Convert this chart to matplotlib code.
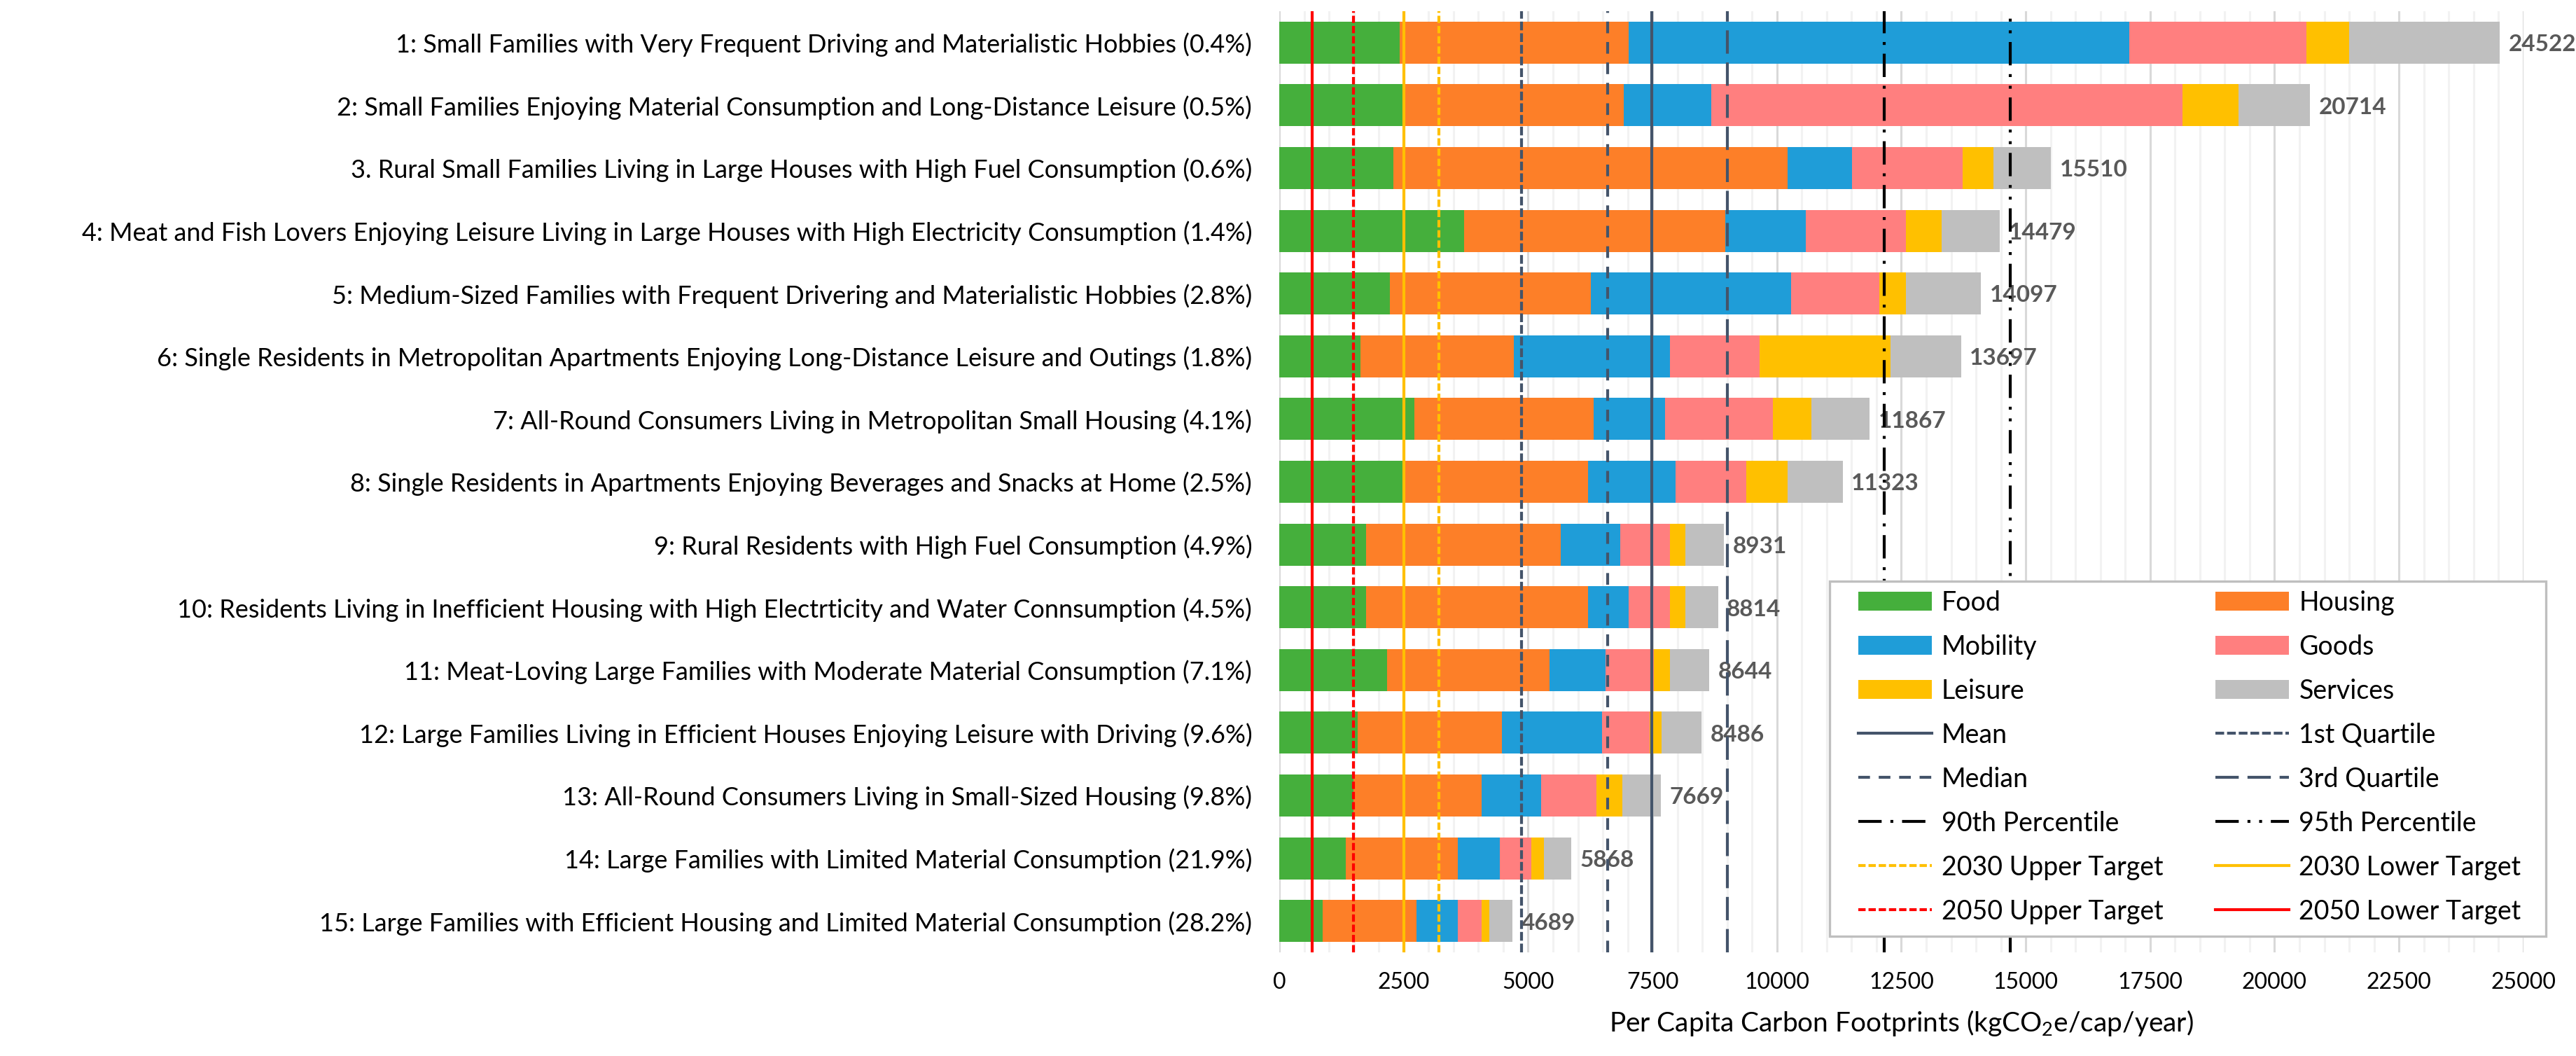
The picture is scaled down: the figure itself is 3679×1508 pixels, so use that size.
import matplotlib
matplotlib.use("Agg")
import matplotlib.pyplot as plt
import numpy as np
from matplotlib.ticker import MultipleLocator
from matplotlib.patches import Rectangle

plt.rcParams['font.family'] = ['Lato', 'DejaVu Sans']
plt.rcParams['mathtext.fontset'] = 'custom'
plt.rcParams['mathtext.rm'] = 'Lato'
plt.rcParams['mathtext.it'] = 'Lato:italic'

categories = [
    "1: Small Families with Very Frequent Driving and Materialistic Hobbies (0.4%)",
    "2: Small Families Enjoying Material Consumption and Long-Distance Leisure (0.5%)",
    "3. Rural Small Families Living in Large Houses with High Fuel Consumption (0.6%)",
    "4: Meat and Fish Lovers Enjoying Leisure Living in Large Houses with High Electricity Consumption (1.4%)",
    "5: Medium-Sized Families with Frequent Drivering and Materialistic Hobbies (2.8%)",
    "6: Single Residents in Metropolitan Apartments Enjoying Long-Distance Leisure and Outings (1.8%)",
    "7: All-Round Consumers Living in Metropolitan Small Housing (4.1%)",
    "8: Single Residents in Apartments Enjoying Beverages and Snacks at Home (2.5%)",
    "9: Rural Residents with High Fuel Consumption (4.9%)",
    "10: Residents Living in Inefficient Housing with High Electrticity and Water Connsumption (4.5%)",
    "11: Meat-Loving Large Families with Moderate Material Consumption (7.1%)",
    "12: Large Families Living in Efficient Houses Enjoying Leisure with Driving (9.6%)",
    "13: All-Round Consumers Living in Small-Sized Housing (9.8%)",
    "14: Large Families with Limited Material Consumption (21.9%)",
    "15: Large Families with Efficient Housing and Limited Material Consumption (28.2%)",
]

food     = [2424, 2475, 2288, 3712, 2220, 1627, 2712, 2475, 1746, 1746, 2169, 1576, 1492, 1339, 864]
housing  = [4593, 4440, 7932, 5254, 4034, 3085, 3610, 3728, 3915, 4457, 3255, 2899, 2576, 2254, 1899]
mobility = [10068, 1763, 1288, 1610, 4034, 3135, 1424, 1763, 1186, 814, 1135, 2017, 1186, 831, 830]
goods    = [3559, 9475, 2221, 2017, 1763, 1797, 2169, 1424, 1000, 830, 966, 949, 1119, 644, 475]
leisure  = [848, 1118, 627, 712, 542, 2644, 780, 830, 306, 306, 322, 237, 525, 254, 152]
services = [3030, 1443, 1154, 1174, 1504, 1409, 1172, 1103, 778, 661, 797, 808, 771, 546, 469]
totals   = [24522, 20714, 15510, 14479, 14097, 13697, 11867, 11323, 8931, 8814, 8644, 8486, 7669, 5868, 4689]

series_names = ["Food", "Housing", "Mobility", "Goods", "Leisure", "Services"]
series_colors = ["#45AF3C", "#FD7F28", "#1F9DD8", "#FF7F7F", "#FFC000", "#BFBFBF"]

ref_names  = ["Mean", "1st Quartile", "Median", "3rd Quartile", "90th Percentile", "95th Percentile",
              "2030 Upper Target", "2030 Lower Target", "2050 Upper Target", "2050 Lower Target"]
ref_values = [7478, 4864, 6593, 9000, 12153, 14695, 3205, 2505, 1495, 662]
ref_colors = ["#44546A", "#44546A", "#44546A", "#44546A", "black", "black",
              "#FFC000", "#FFC000", "#FF0000", "#FF0000"]
ref_styles = ["-", (0, (3, 1)), (0, (4, 3)), (0, (8, 3)), (0, (8, 3, 1, 3)), (0, (8, 3, 1, 3, 1, 3)),
              (0, (2.5, 1)), "-", (0, (2.5, 1)), "-"]

fig = plt.figure(figsize=(18.4, 7.54), dpi=200)
ax = fig.add_axes([0.4965, 0.0981, 0.9793 - 0.4965, 0.9894 - 0.0981])

y = np.arange(len(categories))
data = [food, housing, mobility, goods, leisure, services]
left = np.zeros(len(categories))
bar_handles = []
for vals, name, col in zip(data, series_names, series_colors):
    h = ax.barh(y, vals, left=left, height=0.67, color=col, label=name, zorder=2, linewidth=0)
    bar_handles.append(h)
    left = left + np.array(vals)

for yi, end, tot in zip(y, left, totals):
    ax.annotate(str(tot), xy=(end, yi), xytext=(4.5, -1), textcoords="offset points",
                ha="left", va="center", fontsize=12, fontweight="bold", color="#595959", zorder=3)

line_handles = []
for name, val, col, ls in zip(ref_names, ref_values, ref_colors, ref_styles):
    ln = ax.axvline(val, color=col, linestyle=ls, linewidth=1.5, label=name, zorder=4)
    line_handles.append(ln)

ax.set_xlim(0, 25000)
ax.set_ylim(14.5, -0.5)
ax.set_yticks(y)
ax.set_yticklabels(categories, fontsize=13)
ax.xaxis.set_major_locator(MultipleLocator(2500))
ax.xaxis.set_minor_locator(MultipleLocator(500))
ax.grid(True, axis="x", which="major", color="#D9D9D9", linewidth=1.1, zorder=0)
ax.grid(True, axis="x", which="minor", color="#F2F2F2", linewidth=1.1, zorder=0)
ax.set_axisbelow(True)
for s in ax.spines.values():
    s.set_visible(False)
ax.tick_params(axis="both", which="both", length=0)
ax.tick_params(axis="y", pad=14)
ax.tick_params(axis="x", pad=10, labelsize=11.5)
ax.set_xlabel(r"Per Capita Carbon Footprints (kgCO$_2$e/cap/year)", fontsize=14, labelpad=8)

# legend box (drawn over the reference lines)
box = Rectangle((0.4423, 0.0171), 0.5757, 0.3772, transform=ax.transAxes, facecolor="white",
                edgecolor="#BFBFBF", linewidth=1.2, zorder=4.5, clip_on=False)
ax.add_patch(box)

handles_all = bar_handles + line_handles
labels_all = series_names + ref_names
col1 = [handles_all[i] for i in range(0, 16, 2)]
col2 = [handles_all[i] for i in range(1, 16, 2)]
lab1 = [labels_all[i] for i in range(0, 16, 2)]
lab2 = [labels_all[i] for i in range(1, 16, 2)]
leg = ax.legend(col1 + col2, lab1 + lab2, ncol=2, loc="upper left", bbox_to_anchor=(0.4654, 0.385),
                borderaxespad=0, borderpad=0, fontsize=13.5, frameon=False,
                handlelength=2.8, handletextpad=0.37, columnspacing=2.0, labelspacing=0.72)
leg.set_zorder(5)

fig.savefig("out.png", dpi=200)
